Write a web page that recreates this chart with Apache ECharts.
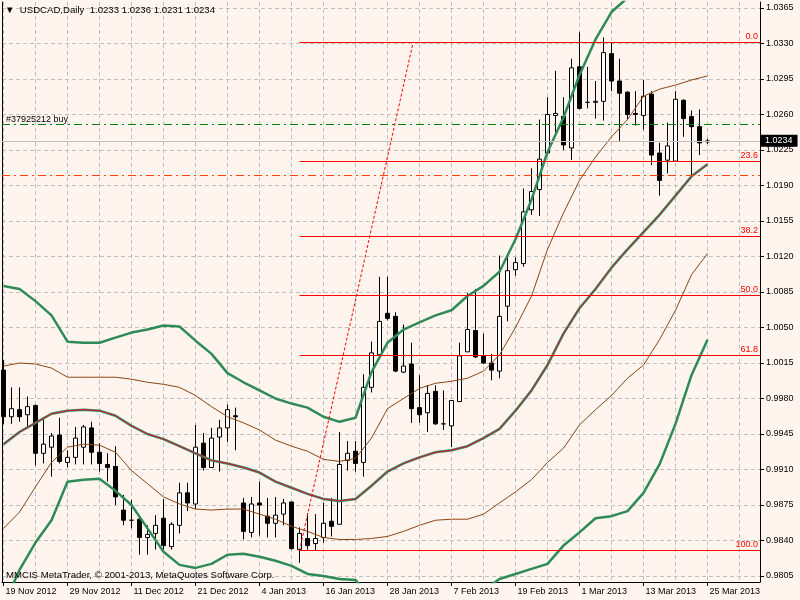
<!DOCTYPE html>
<html>
<head>
<meta charset="utf-8">
<title>USDCAD, Daily</title>
<script src="https://cdn.jsdelivr.net/npm/echarts@6/dist/echarts.min.js"></script>
<style>
  html, body { margin: 0; padding: 0; background: #fff5ee; }
  #chart { width: 800px; height: 600px; }
</style>
</head>
<body>
<div id="chart"></div>
<script>
// trading days shown on the chart (one candle each)
const dates = [
  '19 Nov 2012', '20 Nov 2012', '21 Nov 2012', '22 Nov 2012', '23 Nov 2012', '26 Nov 2012', '27 Nov 2012', '28 Nov 2012', '29 Nov 2012', '30 Nov 2012',
  '3 Dec 2012', '4 Dec 2012', '5 Dec 2012', '6 Dec 2012', '7 Dec 2012', '10 Dec 2012', '11 Dec 2012', '12 Dec 2012', '13 Dec 2012', '14 Dec 2012',
  '17 Dec 2012', '18 Dec 2012', '19 Dec 2012', '20 Dec 2012', '21 Dec 2012', '24 Dec 2012', '26 Dec 2012', '27 Dec 2012', '28 Dec 2012', '31 Dec 2012',
  '2 Jan 2013', '3 Jan 2013', '4 Jan 2013', '7 Jan 2013', '8 Jan 2013', '9 Jan 2013', '10 Jan 2013', '11 Jan 2013', '14 Jan 2013', '15 Jan 2013',
  '16 Jan 2013', '17 Jan 2013', '18 Jan 2013', '21 Jan 2013', '22 Jan 2013', '23 Jan 2013', '24 Jan 2013', '25 Jan 2013', '28 Jan 2013', '29 Jan 2013',
  '30 Jan 2013', '31 Jan 2013', '1 Feb 2013', '4 Feb 2013', '5 Feb 2013', '6 Feb 2013', '7 Feb 2013', '8 Feb 2013', '11 Feb 2013', '12 Feb 2013',
  '13 Feb 2013', '14 Feb 2013', '15 Feb 2013', '18 Feb 2013', '19 Feb 2013', '20 Feb 2013', '21 Feb 2013', '22 Feb 2013', '25 Feb 2013', '26 Feb 2013',
  '27 Feb 2013', '28 Feb 2013', '1 Mar 2013', '4 Mar 2013', '5 Mar 2013', '6 Mar 2013', '7 Mar 2013', '8 Mar 2013', '11 Mar 2013', '12 Mar 2013',
  '13 Mar 2013', '14 Mar 2013', '15 Mar 2013', '18 Mar 2013', '19 Mar 2013', '20 Mar 2013', '21 Mar 2013', '22 Mar 2013', '25 Mar 2013'
]

const opens = [
  1.0008, 0.9962, 0.9969, 0.9964, 0.9973, 0.9926, 0.9932, 0.9944, 0.9917, 0.9922,
  0.9932, 0.9951, 0.9927, 0.9915, 0.9913, 0.9870, 0.9860, 0.9861, 0.9843, 0.9847,
  0.9862, 0.9834, 0.9855, 0.9887, 0.9876, 0.9936, 0.9912, 0.9942, 0.9951, 0.9963,
  0.9877, 0.9848, 0.9877, 0.9864, 0.9857, 0.9866, 0.9878, 0.9831, 0.9842, 0.9837,
  0.9843, 0.9859, 0.9856, 0.9919, 0.9928, 0.9917, 0.9991, 1.0023, 1.0064, 1.0061,
  1.0006, 1.0014, 0.9971, 0.9966, 0.9987, 0.9955, 0.9953, 0.9977, 1.0026, 1.0047,
  1.0022, 1.0015, 1.0007, 1.0071, 1.0107, 1.0113, 1.0166, 1.0186, 1.0222, 1.0259,
  1.0258, 1.0227, 1.0307, 1.0272, 1.0272, 1.0273, 1.0320, 1.0293, 1.0282, 1.0261,
  1.0259, 1.0280, 1.0222, 1.0215, 1.0214, 1.0274, 1.0258, 1.0248, 1.0233
]
const highs = [
  1.0018, 0.9991, 0.9991, 0.9982, 0.9974, 0.9960, 0.9946, 0.9961, 0.9929, 0.9952,
  0.9954, 0.9957, 0.9936, 0.9926, 0.9933, 0.9885, 0.9880, 0.9865, 0.9855, 0.9865,
  0.9881, 0.9858, 0.9897, 0.9897, 0.9954, 0.9946, 0.9951, 0.9959, 0.9974, 0.9971,
  0.9882, 0.9883, 0.9898, 0.9882, 0.9883, 0.9881, 0.9878, 0.9853, 0.9867, 0.9866,
  0.9877, 0.9882, 0.9947, 0.9938, 0.9938, 1.0004, 1.0036, 1.0100, 1.0100, 1.0065,
  1.0053, 1.0035, 1.0003, 0.9993, 0.9993, 0.9988, 0.9978, 1.0035, 1.0084, 1.0088,
  1.0044, 1.0024, 1.0121, 1.0122, 1.0119, 1.0187, 1.0207, 1.0255, 1.0277, 1.0303,
  1.0277, 1.0315, 1.0341, 1.0307, 1.0293, 1.0336, 1.0331, 1.0315, 1.0283, 1.0283,
  1.0294, 1.0283, 1.0232, 1.0252, 1.0283, 1.0275, 1.0264, 1.0265, 1.0236
]
const lows = [
  0.9955, 0.9955, 0.9957, 0.9952, 0.9914, 0.9916, 0.9903, 0.9916, 0.9912, 0.9915,
  0.9915, 0.9915, 0.9908, 0.9898, 0.9875, 0.9855, 0.9852, 0.9826, 0.9826, 0.9831,
  0.9831, 0.9831, 0.9847, 0.9869, 0.9871, 0.9909, 0.9912, 0.9908, 0.9937, 0.9929,
  0.9841, 0.9843, 0.9845, 0.9843, 0.9843, 0.9855, 0.9831, 0.9818, 0.9831, 0.9830,
  0.9838, 0.9844, 0.9856, 0.9909, 0.9908, 0.9903, 0.9986, 1.0020, 1.0057, 1.0006,
  1.0005, 0.9956, 0.9956, 0.9947, 0.9954, 0.9949, 0.9932, 0.9977, 1.0026, 1.0020,
  1.0014, 0.9998, 1.0000, 1.0056, 1.0101, 1.0110, 1.0161, 1.0160, 1.0220, 1.0242,
  1.0225, 1.0215, 1.0265, 1.0266, 1.0256, 1.0254, 1.0283, 1.0234, 1.0255, 1.0249,
  1.0245, 1.0210, 1.0180, 1.0202, 1.0214, 1.0238, 1.0199, 1.0220, 1.0231
]
const closes = [
  0.9962, 0.9970, 0.9962, 0.9972, 0.9926, 0.9935, 0.9943, 0.9918, 0.9922, 0.9941,
  0.9952, 0.9927, 0.9916, 0.9912, 0.9883, 0.9860, 0.9860, 0.9843, 0.9846, 0.9855,
  0.9835, 0.9856, 0.9887, 0.9877, 0.9932, 0.9912, 0.9941, 0.9951, 0.9969, 0.9962,
  0.9849, 0.9876, 0.9875, 0.9857, 0.9865, 0.9877, 0.9832, 0.9847, 0.9835, 0.9842,
  0.9857, 0.9854, 0.9915, 0.9926, 0.9916, 0.9991, 1.0025, 1.0056, 1.0059, 1.0007,
  1.0012, 0.9970, 0.9964, 0.9985, 0.9955, 0.9955, 0.9978, 1.0022, 1.0048, 1.0021,
  1.0015, 1.0008, 1.0061, 1.0106, 1.0114, 1.0164, 1.0184, 1.0216, 1.0260, 1.0261,
  1.0230, 1.0306, 1.0266, 1.0272, 1.0273, 1.0321, 1.0293, 1.0281, 1.0260, 1.0260,
  1.0278, 1.0220, 1.0195, 1.0229, 1.0275, 1.0256, 1.0248, 1.0232, 1.0234
]

// Bollinger bands
const bandBars = [
  0, 2, 4, 6, 8, 10, 12, 14, 16, 18, 20, 22, 24, 26, 28, 30, 32, 34, 36, 38, 40, 42,
  44, 46, 48, 50, 52, 54, 56, 58, 60, 62, 64, 66, 68, 70, 72, 74, 76, 78, 80, 82, 84, 86, 88
]
const outerUpper = [
  1.0091, 1.0088, 1.0076, 1.0062, 1.0036, 1.0035, 1.0035, 1.0040, 1.0045, 1.0048, 1.0052, 1.0051,
  1.0037, 1.0024, 1.0005, 0.9996, 0.9988, 0.9980, 0.9975, 0.9971, 0.9962, 0.9957, 0.9961, 1.0006,
  1.0035, 1.0048, 1.0055, 1.0062, 1.0067, 1.0081, 1.0091, 1.0105, 1.0137, 1.0176, 1.0223, 1.0257,
  1.0299, 1.0334, 1.0361, 1.0375, 1.0381, 1.0385, 1.0387, 1.0387, 1.0385
]
const middle = [
  0.9935, 0.9947, 0.9956, 0.9965, 0.9968, 0.9969, 0.9968, 0.9963, 0.9953, 0.9945, 0.9940, 0.9933,
  0.9926, 0.9919, 0.9916, 0.9912, 0.9907, 0.9898, 0.9892, 0.9886, 0.9881, 0.9879, 0.9881, 0.9894,
  0.9908, 0.9916, 0.9922, 0.9927, 0.9929, 0.9933, 0.9941, 0.9950, 0.9968, 0.9988, 1.0013, 1.0044,
  1.0069, 1.0088, 1.0109, 1.0127, 1.0144, 1.0161, 1.0180, 1.0199, 1.0211
]
const outerLower = [
  0.9776, 0.9811, 0.9838, 0.9860, 0.9898, 0.9900, 0.9901, 0.9889, 0.9875, 0.9852, 0.9829, 0.9816,
  0.9813, 0.9817, 0.9826, 0.9827, 0.9824, 0.9820, 0.9815, 0.9807, 0.9805, 0.9802, 0.9801, 0.9783,
  0.9781, 0.9783, 0.9787, 0.9791, 0.9791, 0.9787, 0.9791, 0.9802, 0.9807, 0.9812, 0.9817, 0.9835,
  0.9848, 0.9862, 0.9864, 0.9869, 0.9887, 0.9915, 0.9955, 1.0003, 1.0038
]
const innerUpper = [
  1.0012, 1.0015, 1.0014, 1.0010, 1.0001, 1.0001, 1.0001, 1.0001, 0.9999, 0.9996, 0.9994, 0.9991,
  0.9983, 0.9972, 0.9962, 0.9956, 0.9949, 0.9939, 0.9933, 0.9928, 0.9920, 0.9918, 0.9921, 0.9941,
  0.9970, 0.9980, 0.9990, 0.9995, 0.9997, 1.0000, 1.0007, 1.0023, 1.0050, 1.0081, 1.0127, 1.0163,
  1.0195, 1.0218, 1.0238, 1.0255, 1.0278, 1.0285, 1.0289, 1.0294, 1.0298
]
const innerLower = [
  0.9852, 0.9868, 0.9893, 0.9917, 0.9932, 0.9935, 0.9934, 0.9927, 0.9909, 0.9896, 0.9883, 0.9876,
  0.9871, 0.9870, 0.9871, 0.9871, 0.9866, 0.9861, 0.9854, 0.9849, 0.9843, 0.9841, 0.9841, 0.9842,
  0.9844, 0.9849, 0.9855, 0.9860, 0.9861, 0.9861, 0.9866, 0.9877, 0.9888, 0.9900, 0.9917, 0.9931,
  0.9954, 0.9969, 0.9983, 1.0000, 1.0013, 1.0038, 1.0067, 1.0102, 1.0123
]

// axis ticks
const priceTicks = [
  0.9805, 0.9840, 0.9875, 0.9910, 0.9945, 0.9980, 1.0015, 1.0050, 1.0085,
  1.0120, 1.0155, 1.0190, 1.0225, 1.0260, 1.0295, 1.0330, 1.0365
]
const labelBars = [0, 8, 16, 24, 32, 40, 48, 56, 64, 72, 80, 88]
const gridBars = [0, 4, 8, 12, 16, 20, 24, 28, 32, 36, 40, 44, 48, 52, 56, 60, 64, 68, 72, 76, 80, 84, 88, 92]

// chart objects (levels)
const fibLabels = ['0.0', '23.6', '38.2', '50.0', '61.8', '100.0']
const fibPrices = [1.0331, 1.02137, 1.01397, 1.00816, 1.00224, 0.98302]
const fibFromBar = 37
const fibToBar = 51.2
const orderPrice = 1.0250
const stopPrice = 1.0200
const bidPrice = 1.0234

const xMin = -0.1875
const xMax = 94.5625
const yMin = 0.97991
const yMax = 1.03709

const FONT = 'Liberation Sans'
const chart = echarts.init(document.getElementById('chart'))

const candles = dates.map((d, i) => [i, opens[i], closes[i], lows[i], highs[i]])
const pairs = (vals) => vals.map((v, k) => [bandBars[k], v])

const bandLine = (name, vals, color, width, z) => ({
  name: name,
  type: 'line',
  data: pairs(vals),
  showSymbol: false,
  symbol: 'none',
  silent: true,
  z: z || 3,
  lineStyle: { color: color, width: width }
})

// an object drawn as a markLine on an otherwise empty series
const objectLine = (name, lineStyle, data, label) => ({
  name: name,
  type: 'line',
  data: [],
  z: 5,
  silent: true,
  markLine: {
    silent: true,
    precision: 5,
    animation: false,
    symbol: ['none', 'none'],
    lineStyle: lineStyle,
    label: label || { show: false },
    emphasis: { disabled: true },
    data: data
  }
})

const textStyle = { fontFamily: FONT, fontSize: 9.6, fontWeight: 'normal', color: '#000' }

const option = {
  backgroundColor: '#fff5ee',
  animation: false,
  title: [
    {
      text: '\u25BC  USDCAD,Daily  ' + [opens[88], highs[88], lows[88], closes[88]].map(v => v.toFixed(4)).join(' '),
      left: 5,
      top: 5,
      padding: 0,
      textStyle: textStyle
    },
    {
      text: 'MMCIS MetaTrader, \u00A9 2001-2013, MetaQuotes Software Corp.',
      left: 6,
      top: 570,
      padding: 0,
      textStyle: textStyle
    }
  ],
  grid: { left: 2, right: 40, top: 2, bottom: 18, show: false },
  xAxis: [
    {
      type: 'value',
      min: xMin,
      max: xMax,
      axisLine: { show: true, onZero: false, lineStyle: { color: '#000', width: 1 } },
      axisTick: { show: true, customValues: labelBars, length: 4, lineStyle: { color: '#000' } },
      axisLabel: {
        customValues: labelBars,
        formatter: v => dates[Math.round(v)],
        align: 'left',
        margin: 5,
        padding: [0, 0, 0, 2],
        color: '#000',
        fontFamily: FONT,
        fontSize: 9
      },
      splitLine: { show: false }
    },
    {
      type: 'value',
      min: xMin,
      max: xMax,
      position: 'bottom',
      axisLine: { show: false, onZero: false },
      axisTick: { show: false, customValues: gridBars },
      axisLabel: { show: false },
      splitLine: { show: true, lineStyle: { color: '#c0c0c0', type: [4, 3], width: 1 } }
    }
  ],
  yAxis: [
    {
      type: 'value',
      position: 'right',
      min: yMin,
      max: yMax,
      axisLine: { show: true, onZero: false, lineStyle: { color: '#000', width: 1 } },
      axisTick: { show: true, customValues: priceTicks, length: 4, lineStyle: { color: '#000' } },
      axisLabel: {
        customValues: priceTicks,
        formatter: v => v.toFixed(4),
        margin: 6,
        color: '#000',
        fontFamily: FONT,
        fontSize: 9
      },
      splitLine: { show: true, lineStyle: { color: '#c0c0c0', type: [4, 3], width: 1 } }
    },
    {
      type: 'value',
      position: 'left',
      min: yMin,
      max: yMax,
      axisLine: { show: true, onZero: false, lineStyle: { color: '#000', width: 1 } },
      axisTick: { show: false },
      axisLabel: { show: false },
      splitLine: { show: false }
    }
  ],
  series: [
    {
      name: 'USDCAD',
      type: 'candlestick',
      data: candles,
      barWidth: 5,
      z: 2,
      silent: true,
      itemStyle: {
        color: '#ffffff',
        color0: '#000000',
        borderColor: '#000000',
        borderColor0: '#000000',
        borderColorDoji: '#000000',
        borderWidth: 1
      }
    },
    bandLine('Upper 2', outerUpper, '#2e8b57', 2.5),
    bandLine('Lower 2', outerLower, '#2e8b57', 2.5),
    bandLine('Upper 1', innerUpper, '#8b4513', 1),
    bandLine('Lower 1', innerLower, '#8b4513', 1),
    bandLine('Middle', middle, '#2e8b57', 2.5),
    bandLine('MA', middle, '#dc143c', 1, 4),
    objectLine('Bid', { color: '#c0c0c0', width: 1, type: 'solid' }, [{ yAxis: bidPrice }], {
      show: true,
      position: 'end',
      formatter: bidPrice.toFixed(4),
      color: '#fff',
      backgroundColor: '#000',
      padding: [2, 5, 1, 4],
      fontFamily: FONT,
      fontSize: 9,
      distance: 1
    }),
    objectLine('Order', { color: '#008000', width: 1, type: [8, 4, 2, 4] }, [{ yAxis: orderPrice }], {
      show: true,
      position: 'insideStartTop',
      formatter: '#37925212 buy',
      color: '#000',
      fontFamily: FONT,
      fontSize: 9,
      distance: [4, 1]
    }),
    objectLine('Stop', { color: '#ff4500', width: 1, type: [8, 4, 2, 4] }, [{ yAxis: stopPrice }]),
    objectLine(
      'Fibo',
      { color: '#ff0000', width: 1, type: 'solid' },
      fibPrices.map((p, k) => [
        { coord: [fibFromBar, p] },
        { coord: [xMax, p], label: { formatter: fibLabels[k] } }
      ]),
      {
        show: true,
        position: 'insideEndTop',
        color: '#ff0000',
        fontFamily: FONT,
        fontSize: 9,
        distance: [2, 1]
      }
    ),
    objectLine('Fibo trend', { color: '#ff0000', width: 1, type: [3, 2] }, [
      [{ coord: [fibFromBar, fibPrices[5]] }, { coord: [fibToBar, fibPrices[0]] }]
    ])
  ]
}

chart.setOption(option)
</script>
</body>
</html>
